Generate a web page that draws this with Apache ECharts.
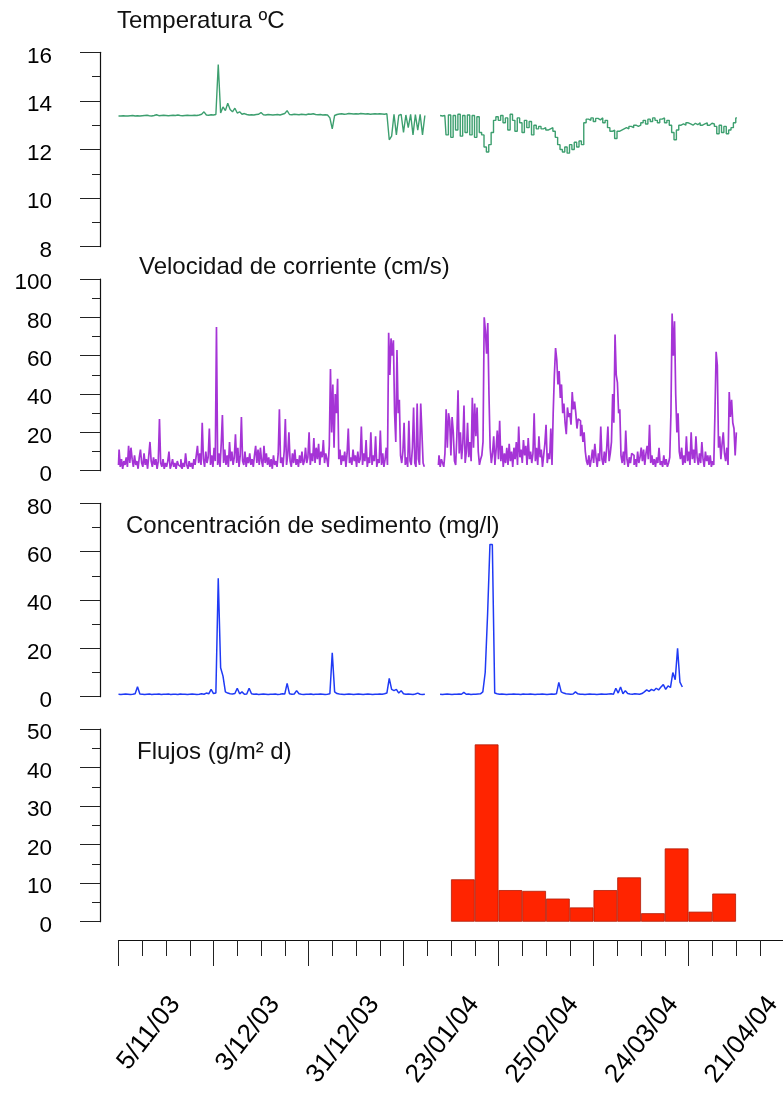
<!DOCTYPE html>
<html>
<head>
<meta charset="utf-8">
<script src="https://cdn.jsdelivr.net/npm/echarts@6/dist/echarts.min.js"></script>
<style>html,body{margin:0;padding:0;background:#fff}#c{width:783px;height:1103px}</style>
</head>
<body>
<div id="c"></div>
<script>
// ---- data (time in weeks from 5/11/03) ----
const dateLabels = ['5/11/03','3/12/03','31/12/03','23/01/04','25/02/04','24/03/04','21/04/04'];
const titles = ['Temperatura ºC','Velocidad de corriente (cm/s)','Concentración de sedimento (mg/l)','Flujos (g/m² d)'];

const tempSpanA = [0, 12.9];
const tempA = [13.38,13.38,13.39,13.38,13.38,13.39,13.4,13.38,13.39,13.38,
13.39,13.4,13.41,13.39,13.38,13.4,13.43,13.39,13.4,13.41,
13.4,13.39,13.4,13.41,13.4,13.42,13.4,13.39,13.4,13.41,
13.4,13.4,13.41,13.4,13.42,13.45,13.55,13.42,13.41,13.43,
13.42,13.44,15.5,13.5,13.75,13.6,13.9,13.65,13.55,13.7,
13.5,13.55,13.45,13.48,13.44,13.42,13.43,13.42,13.44,13.45,
13.52,13.43,13.42,13.44,13.43,13.42,13.43,13.44,13.42,13.45,
13.48,13.6,13.44,13.43,13.45,13.44,13.43,13.45,13.44,13.43,
13.46,13.45,13.47,13.44,13.43,13.44,13.42,13.43,13.42,13.3,
12.85,13.4,13.44,13.46,13.47,13.45,13.46,13.48,13.47,13.46,
13.47,13.46,13.48,13.47,13.46,13.47,13.45,13.46,13.47,13.46,
13.47,13.46,13.45,13.47,12.4,12.55,13.45,12.6,13.4,13.45,
12.7,13.42,12.9,13.45,12.6,13.44,12.8,13.45,12.6,13.4];
const tempSpanB = [13.54, 26.04];
const tempB = [13.4,13.38,13.4,
12.6,13.42,12.5,13.4,12.8,13.45,12.55,13.4,12.7,13.42,12.6,13.4,12.5,13.35,12.7,
12.6,12.1,11.9,12.2,
12.7,13.2,13.35,13.2,
13.4,13.1,13.3,12.8,13.45,13.2,12.75,13.3,
13.1,12.7,13.2,12.9,13.15,12.6,13.0,12.85,
12.95,12.85,12.9,12.8,12.85,12.9,12.75,12.5,
12.2,12.0,11.9,12.1,11.85,12.2,12.0,12.3,12.1,12.35,12.2,
13.1,13.25,13.2,13.3,13.15,13.28,13.22,13.3,13.1,13.2,12.9,
12.75,12.8,12.45,12.75,
12.8,12.85,12.9,12.85,12.95,12.9,13.0,12.95,13.0,
13.1,13.2,13.05,13.25,13.15,13.3,13.2,13.1,13.25,13.3,13.1,13.2,13.0,12.7,
12.4,12.8,
13.0,13.05,13.0,13.1,13.05,13.0,13.08,13.02,13.1,13.0,13.05,13.1,13.0,13.08,13.05,12.95,
12.65,13.0,12.7,12.95,12.65,
12.8,12.9,13.1,13.3];

const velSpanA = [0, 12.9];
const velA = [3,11,2,6,1,5,3,7,2,13,4,12,6,2,8,3,5,1,7,11,
4,2,9,3,6,1,8,15,5,2,7,3,6,1,5,27,4,2,6,1,
4,2,5,10,1,3,6,2,4,1,5,3,2,6,1,4,2,9,3,1,
5,2,4,1,6,3,8,13,4,9,3,25,6,2,10,4,7,22,3,8,
2,12,5,75,3,9,2,14,29,4,11,3,8,2,15,5,10,3,7,19,
4,12,2,8,28,5,3,10,2,7,4,9,3,6,2,8,13,4,11,3,
12,5,2,13,4,9,3,7,2,6,1,8,3,5,2,9,32,4,7,2,
10,27,3,8,20,5,2,9,4,11,3,6,2,8,4,10,3,5,12,4,
7,20,3,9,5,17,4,12,6,14,3,10,7,16,4,9,6,2,13,53,
20,45,12,40,30,48,6,11,3,8,5,10,2,9,22,4,7,3,11,5,
8,2,10,4,6,23,3,9,5,16,2,7,4,20,3,8,5,18,2,6,
4,21,3,9,2,6,12,3,72,50,69,60,68,30,15,63,30,37,8,4,
10,25,3,7,2,26,5,3,12,33,4,2,35,6,3,35,20,4,2];
const velSpanB = [13.47, 26.04];
const velB = [3,8,2,6,4,2,9,32,12,30,26,8,28,20,5,3,18,42,9,20,
6,14,34,4,10,25,7,15,5,38,12,35,18,33,10,3,6,8,15,80,
73,61,77,40,12,4,9,18,3,11,21,6,26,5,13,2,9,4,12,3,
14,5,10,2,12,6,15,3,23,7,11,4,16,8,13,3,17,6,10,4,
9,30,5,12,3,18,7,11,2,8,14,24,4,9,6,22,3,30,50,64,
58,45,52,38,45,30,35,25,19,33,28,30,24,41,32,36,30,22,27,26,
18,24,15,20,10,5,3,8,2,6,11,4,14,7,2,9,5,23,6,3,
10,4,12,23,5,9,15,40,25,71,50,46,30,32,8,4,10,3,21,6,
2,7,4,9,8,3,6,2,10,4,7,12,5,11,3,9,13,6,24,4,
8,3,6,2,7,4,12,3,5,2,8,3,6,2,4,7,30,82,60,78,
40,20,30,10,6,12,3,8,4,18,5,10,3,20,6,11,4,18,7,3,
9,4,15,6,2,10,5,8,3,8,2,5,3,30,62,55,12,18,6,14,
20,9,5,12,3,41,28,37,25,22,8,20];

const concSpanA = [0, 12.9];
const concA = [1,0.9,1,1.1,1,0.9,1,1.2,4.1,1.1,
1,0.9,1,1.1,0.9,1,1,1.1,0.9,1,
1,1.1,0.9,1,1,0.9,1.1,1,1,0.9,
1,1.1,1,0.9,1,1.2,1,1.5,1.2,3,
1.3,1.5,49,12,8.5,2,1.5,1.2,1.1,1.3,
3.5,1.2,2,1,1.1,3.5,1.2,1,1.1,0.9,
1,1.1,1,0.9,1,1,1.1,0.9,1,1.2,
1.1,5.5,1.2,1,1.1,2.5,1.2,1,0.9,1,
1,1.1,0.9,1,1,1.1,1,0.9,1,1.2,
18.2,2,1.3,1.1,1,0.9,1,1.1,1,0.9,
1,1.1,1,0.9,1,1.1,1,0.9,1,1,
1.1,1,1.2,1.5,7.6,3,2.5,3,1.5,2.5,
1.2,1,1.1,1,0.9,1.1,1.5,1,0.9,1];
const concSpanB = [13.54, 23.74];
const concB = [1,0.9,1,1.1,1,0.9,1,1,1.1,1,
1.8,1,1.1,0.9,1,1,1.1,1.2,2,10,
34,63,63,1.5,1.2,1,1.1,1,0.9,1,
1,1.1,1,1,0.9,1.1,1,1,1.1,1,
0.9,1,1,1.1,1,0.9,1,1.1,1,1.2,
5.9,2,1.5,1.2,1.1,1,1.1,2,1.2,1,
1,0.9,1,1.1,1,1,0.9,1,1.1,1,
1,1.1,1.2,1,3.5,1.5,4,1.2,2.5,1.3,
1.1,1,1.2,1.1,1,1.3,2,2.8,2.2,3,
2.5,3.5,2.8,4,5,3,4.5,3.8,10,7,
20,6,4];

const fluxStartWeek = 14;
const fluxValues = [11.0, 46.0, 8.2, 8.0, 6.0, 3.7, 8.2, 11.5, 2.2, 19.0, 2.6, 7.3];
const totalWeeks = 28;

// ---- build ----
function seg(vals, span){ const n = vals.length; return vals.map((v,i)=>[span[0] + i*(span[1]-span[0])/(n-1), v]); }
const weekCats = Array.from({length: totalWeeks}, (_, i) => String(i));
const fluxData = weekCats.map((_, i) => { const k = i - fluxStartWeek; return (k >= 0 && k < fluxValues.length) ? fluxValues[k] : '-'; });

const FONT = 'Liberation Sans, Arial, sans-serif';
const GL = 118.5, GW = 665;
const grids = [
  {left: GL, width: GW, top: 52.3, height: 194.4},
  {left: GL, width: GW, top: 279, height: 191.7},
  {left: GL, width: GW, top: 503.3, height: 193.4},
  {left: GL, width: GW, top: 729, height: 192.7},
  {left: 105, width: 697.2, top: 921.7, height: 18.3}
].map(g => Object.assign(g, {containLabel:false, outerBoundsMode:'none'}));
function yAx(i, min, max, interval){
  return {type:'value', gridIndex:i, min, max, interval, offset:18.5, position:'left',
    axisLine:{show:true, onZero:false, lineStyle:{color:'#111', width:1.2}},
    axisTick:{show:true, length:20, lineStyle:{color:'#222', width:1}},
    minorTick:{show:true, splitNumber:2, length:8, lineStyle:{color:'#222', width:1}},
    splitLine:{show:false},
    axisLabel:{margin:48, fontSize:22.5, color:'#000', fontFamily:FONT, verticalAlign:'top', lineHeight:8}};
}
const lineStyle = (c, w) => ({type:'line', showSymbol:false, symbol:'none', animation:false, lineStyle:{color:c, width:w}, itemStyle:{color:c}});
const GREEN = '#3d9f6f', PURPLE = '#a534d6', BLUE = '#1f3af5';

const option = {
  animation:false,
  backgroundColor:'#fff',
  title: [
    {text: titles[0], left: 117, top: 9},
    {text: titles[1], left: 139, top: 255},
    {text: titles[2], left: 126, top: 514},
    {text: titles[3], left: 137, top: 740}
  ].map(t => Object.assign(t, {padding:0, textStyle:{fontSize:24, fontWeight:'normal', color:'#111', fontFamily:FONT}})),
  grid: grids,
  xAxis: [
    {type:'value', gridIndex:0, min:0, max:totalWeeks, show:false},
    {type:'value', gridIndex:1, min:0, max:totalWeeks, show:false},
    {type:'value', gridIndex:2, min:0, max:totalWeeks, show:false},
    {type:'value', gridIndex:3, min:0, max:totalWeeks, interval:4, position:'bottom', offset:18.3,
      axisLine:{show:true, onZero:false, lineStyle:{color:'#111', width:1.2}},
      axisTick:{show:true, length:26, lineStyle:{color:'#222', width:1}},
      minorTick:{show:true, splitNumber:4, length:16, lineStyle:{color:'#222', width:1}},
      splitLine:{show:false}, axisLabel:{show:false}},
    {type:'category', gridIndex:3, data:weekCats, boundaryGap:true, show:false, position:'top'},
    {type:'value', gridIndex:4, min:0, max:totalWeeks, interval:4, position:'bottom',
      axisLine:{show:false, onZero:false}, axisTick:{show:false}, splitLine:{show:false},
      axisLabel:{show:true, rotate:52, align:'right', verticalAlign:'top', margin:5, padding:[76,0,0,0],
        fontSize:26, color:'#000', fontFamily:FONT,
        formatter: v => dateLabels[Math.round(v/4)] || ''}}
  ],
  yAxis: [
    yAx(0, 8, 16, 2), yAx(1, 0, 100, 20), yAx(2, 0, 80, 20), yAx(3, 0, 50, 10),
    {type:'value', gridIndex:4, show:false, min:0, max:1}
  ],
  series: [
    Object.assign(lineStyle(GREEN, 1.4), {xAxisIndex:0, yAxisIndex:0, data: seg(tempA, tempSpanA)}),
    Object.assign(lineStyle(GREEN, 1.4), {step:'middle', xAxisIndex:0, yAxisIndex:0, data: seg(tempB, tempSpanB)}),
    Object.assign(lineStyle(PURPLE, 1.7), {step:'middle', xAxisIndex:1, yAxisIndex:1, data: seg(velA, velSpanA)}),
    Object.assign(lineStyle(PURPLE, 1.7), {step:'middle', xAxisIndex:1, yAxisIndex:1, data: seg(velB, velSpanB)}),
    Object.assign(lineStyle(BLUE, 1.5), {xAxisIndex:2, yAxisIndex:2, data: seg(concA, concSpanA)}),
    Object.assign(lineStyle(BLUE, 1.5), {xAxisIndex:2, yAxisIndex:2, data: seg(concB, concSpanB)}),
    {type:'bar', xAxisIndex:4, yAxisIndex:3, data: fluxData, barCategoryGap:'0%', animation:false,
      itemStyle:{color:'#ff2400', borderColor:'#b01c08', borderWidth:0.8}}
  ]
};
const chart = echarts.init(document.getElementById('c'), null, {renderer:'canvas'});
chart.setOption(option);
</script>
</body>
</html>
